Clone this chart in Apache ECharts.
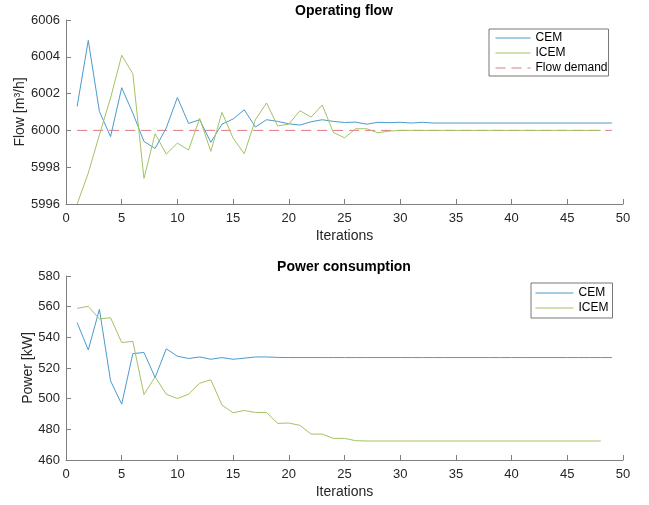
<!DOCTYPE html>
<html>
<head>
<meta charset="utf-8">
<script src="https://cdn.jsdelivr.net/npm/echarts@6/dist/echarts.min.js"></script>
<style>html,body{margin:0;padding:0;background:#fff}#c1{position:absolute;left:0;top:0;width:649px;height:252px}#c2{position:absolute;left:0;top:252px;width:649px;height:253px}</style>
</head>
<body>
<div id="c1"></div>
<div id="c2"></div>
<script>
// ---- data ----
var iterations = [1,2,3,4,5,6,7,8,9,10,11,12,13,14,15,16,17,18,19,20,21,22,23,24,25,26,27,28,29,30,31,32,33,34,35,36,37,38,39,40,41,42,43,44,45,46,47,48,49];
var flowCEM = [6001.30,6004.89,6001.03,5999.66,6002.32,6000.94,5999.40,5999.02,6000.13,6001.79,6000.38,6000.58,5999.35,6000.34,6000.62,6001.12,6000.18,6000.58,6000.49,6000.36,6000.29,6000.47,6000.58,6000.49,6000.43,6000.45,6000.34,6000.44,6000.42,6000.44,6000.40,6000.44,6000.40,6000.40,6000.40,6000.40,6000.40,6000.40,6000.40,6000.40,6000.40,6000.40,6000.40,6000.40,6000.40,6000.40,6000.40,6000.40,6000.40];
var flowICEM = [5996.0,5997.68,5999.76,6001.76,6004.08,6003.08,5997.39,5999.82,5998.71,5999.31,5998.93,6000.65,5998.86,6000.98,5999.58,5998.73,6000.58,6001.49,6000.24,6000.34,6001.07,6000.72,6001.38,5999.89,5999.60,6000.09,6000.09,5999.87,5999.96,6000.0,6000.0,6000.0,6000.0,6000.0,6000.0,6000.0,6000.0,6000.0,6000.0,6000.0,6000.0,6000.0,6000.0,6000.0,6000.0,6000.0,6000.0,6000.0];
var demandIter = [1, 49];
var demandFlow = [6000, 6000];
var powerCEM = [549.6,531.8,558.3,511.6,496.4,529.4,530.1,513.8,532.5,527.7,526.2,527.2,525.7,526.8,525.7,526.4,527.2,527.2,526.9,526.8,526.8,526.8,526.8,526.8,526.8,526.8,526.8,526.8,526.8,526.8,526.8,526.8,526.8,526.8,526.8,526.8,526.8,526.8,526.8,526.8,526.8,526.8,526.8,526.8,526.8,526.8,526.8,526.8,526.8];
var powerICEM = [558.9,560.2,552.0,552.8,536.6,537.4,502.7,514.2,502.9,500.1,502.9,510.1,512.3,495.8,490.8,492.3,491.0,491.0,483.9,484.1,482.6,476.9,476.9,474.1,474.1,472.6,472.4,472.4,472.4,472.4,472.4,472.4,472.4,472.4,472.4,472.4,472.4,472.4,472.4,472.4,472.4,472.4,472.4,472.4,472.4,472.4,472.4,472.4];
var xTicks = [0,5,10,15,20,25,30,35,40,45,50];
var flowTicks = [5996,5998,6000,6002,6004,6006];
var powerTicks = [460,480,500,520,540,560,580];

function pairs(xs, ys){ var out=[]; for(var i=0;i<ys.length;i++) out.push([xs[i], ys[i]]); return out; }

var FONT = 'Liberation Sans, Arial, Helvetica, sans-serif';
var axisGray = '#808080';
var txt = '#262626';
var cBlue = '#4b9bcc', cGreen = '#a3c264', cRed = '#e07a80';

function xAx(){
  return {
    type:'value', min: xTicks[0], max: xTicks[xTicks.length-1], interval: 5,
    name: 'Iterations', nameLocation:'middle', nameGap: 25, nameMoveOverlap:false,
    nameTextStyle:{fontFamily:FONT,fontSize:14,color:txt},
    axisLine:{show:true,onZero:false,lineStyle:{color:axisGray,width:1}},
    axisTick:{show:true,inside:true,length:5,lineStyle:{color:axisGray}},
    axisLabel:{fontFamily:FONT,fontSize:13,color:txt,margin:8,formatter:function(v){return String(v);}},
    splitLine:{show:false}
  };
}
function yAx(ticks, name, gap){
  return {
    type:'value', min: ticks[0], max: ticks[ticks.length-1], interval: ticks[1]-ticks[0],
    name: name, nameLocation:'middle', nameGap: gap, nameRotate: 90, nameMoveOverlap:false,
    nameTextStyle:{fontFamily:FONT,fontSize:14,color:txt},
    axisLine:{show:true,onZero:false,lineStyle:{color:axisGray,width:1}},
    axisTick:{show:true,inside:true,length:5,lineStyle:{color:axisGray}},
    axisLabel:{fontFamily:FONT,fontSize:13,color:txt,margin:6,formatter:function(v){return String(v);}},
    splitLine:{show:false}
  };
}
function line(name, data, color, dashed){
  return {
    name:name, type:'line', data:data, showSymbol:false, symbol:'none',
    lineStyle:{color:color,width:1,type: dashed ? [10,6] : 'solid'}, itemStyle:{color:color},
    animation:false, z: dashed ? 1 : 2
  };
}
function legend(names, left, top, itemW, pad){
  return {data:names, orient:'vertical', left:left, top:top,
     itemWidth:itemW, itemHeight:10, itemGap:1, padding:pad,
     borderColor:'#777', borderWidth:1, backgroundColor:'#fff',
     itemStyle:{opacity:0, borderWidth:0}, lineStyle:{width:1},
     textStyle:{fontFamily:FONT,fontSize:12,color:'#000',lineHeight:14}, selectedMode:false};
}

var c1 = echarts.init(document.getElementById('c1'), null, {renderer:'canvas'});
c1.setOption({
  backgroundColor:'#fff', animation:false,
  title:{text:'Operating flow', left:344, top:4, padding:0, textAlign:'center', textStyle:{fontFamily:FONT,fontSize:14,fontWeight:'bold',color:'#000'}},
  grid:{left:66, right:26, top:20, height:184, containLabel:false, outerBoundsMode:'none'},
  legend: legend(['CEM','ICEM','Flow demand'], 489, 29, 35, [2,1,1,6]),
  xAxis: xAx(), yAxis: yAx(flowTicks, 'Flow [m³/h]', 39),
  series:[
    line('Flow demand', pairs(demandIter, demandFlow), cRed, true),
    line('CEM', pairs(iterations, flowCEM), cBlue, false),
    line('ICEM', pairs(iterations, flowICEM), cGreen, false)
  ]
});
var c2 = echarts.init(document.getElementById('c2'), null, {renderer:'canvas'});
c2.setOption({
  backgroundColor:'#fff', animation:false,
  title:{text:'Power consumption', left:344, top:8, padding:0, textAlign:'center', textStyle:{fontFamily:FONT,fontSize:14,fontWeight:'bold',color:'#000'}},
  grid:{left:66, right:26, top:24, height:184, containLabel:false, outerBoundsMode:'none'},
  legend: legend(['CEM','ICEM'], 531, 31, 38, [3,4,3,4]),
  xAxis: xAx(), yAxis: yAx(powerTicks, 'Power [kW]', 31),
  series:[
    line('CEM', pairs(iterations, powerCEM), cBlue, false),
    line('ICEM', pairs(iterations, powerICEM), cGreen, false)
  ]
});
</script>
</body>
</html>
